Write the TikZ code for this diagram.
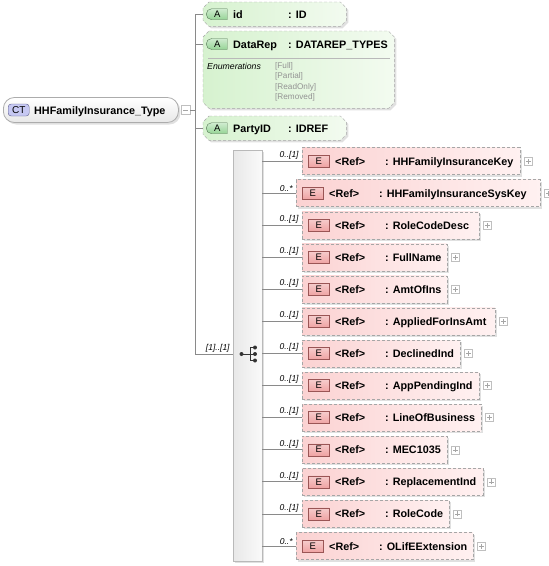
\documentclass[tikz,border=0pt]{standalone}
\usepackage{fontspec}
\setmainfont{Liberation Sans}
\usetikzlibrary{positioning,calc,shadows,shapes.misc}

\definecolor{connGray}{HTML}{8A8A8A}
\definecolor{boxGray}{HTML}{A6A6A6}
\definecolor{elemPink}{HTML}{FBD2D2}
\definecolor{elemLight}{HTML}{FFF1F1}
\definecolor{ePinkDark}{HTML}{EFA3A3}
\definecolor{eBorder}{HTML}{9A5555}
\definecolor{attrGreen}{HTML}{D6F2CF}
\definecolor{attrLight}{HTML}{F3FBF0}
\definecolor{aGreenDark}{HTML}{95D495}
\definecolor{aBorder}{HTML}{557755}
\definecolor{ctBlue}{HTML}{C6C8F2}
\definecolor{ctBorder}{HTML}{5C5C8C}

\newcommand{\diagfont}{\fontsize{10.8}{12}\selectfont\bfseries}

% one element row of the sequence: name, left x, row y, width, multiplicity, element
\newcommand{\elemrow}[6]{%
  \node[elembox, minimum width=#4pt, anchor=west] (#1) at (#2,#3) {};
  \node[ebadge, anchor=west] (#1E) at ($(#1.west)+(6,0)$) {E};
  \node[elemtext] (#1R) at ($(#1.west)+(33,4)$) {<Ref>};
  \node[elemtext] (#1N) at ($(#1.west)+(83,4)$) {: #6};
  \node[plusbox, right=4pt of #1.east] (#1P) {};
  \draw[conn] (seq.east |- #1.west) -- (#1.west) node[mult, pos=1] {#5};
}
% chamfered frame round an attribute node
\newcommand{\attrframe}[1]{%
  \path[attrline] ([xshift=6pt]#1.north west) -- ([xshift=-6pt]#1.north east) -- ([yshift=-6pt]#1.north east)
    -- ([yshift=6pt]#1.south east) -- ([xshift=-6pt]#1.south east) -- ([xshift=6pt]#1.south west)
    -- ([yshift=6pt]#1.south west) -- ([yshift=-6pt]#1.north west) -- cycle;
}

\tikzset{
  conn/.style={draw=connGray, line width=0.8pt},
  boxshadow/.style={drop shadow={shadow xshift=2pt, shadow yshift=-2pt, fill=black, opacity=0.12}},
  elembox/.style={draw=boxGray, dash pattern=on 3pt off 2pt, left color=elemPink, right color=elemLight,
    minimum height=27pt, inner sep=0pt, boxshadow},
  ebadge/.style={draw=eBorder, top color=ePinkDark!55, bottom color=ePinkDark, minimum width=21pt,
    minimum height=12pt, inner sep=0pt, font=\fontsize{9.5}{10}\selectfont},
  elemtext/.style={anchor=base west, inner sep=0pt, font=\diagfont},
  mult/.style={anchor=south east, inner xsep=3pt, inner ysep=1.5pt, font=\fontsize{8.5}{9}\selectfont\itshape},
  plusbox/.style={draw=gray!50, fill=white, minimum size=8pt, inner sep=0pt,
    path picture={\draw[gray!70] ([xshift=-2.5pt]path picture bounding box.center) -- ([xshift=2.5pt]path picture bounding box.center);
      \draw[gray!70] ([yshift=-2.5pt]path picture bounding box.center) -- ([yshift=2.5pt]path picture bounding box.center);}},
  minusbox/.style={draw=gray!50, fill=white, minimum size=9pt, inner sep=0pt,
    path picture={\draw[gray!70] ([xshift=-2.5pt]path picture bounding box.center) -- ([xshift=2.5pt]path picture bounding box.center);}},
  attrbox/.style={rectangle, inner sep=0pt},
  attrline/.style={draw=boxGray, dash pattern=on 3pt off 2pt, left color=attrGreen, right color=attrLight, boxshadow},
  abadge/.style={rounded rectangle, rounded rectangle right arc=none, draw=aBorder,
    top color=aGreenDark!45, bottom color=aGreenDark, minimum width=21pt, minimum height=11pt,
    inner sep=0pt, font=\fontsize{9.5}{10}\selectfont},
  ctbox/.style={draw=gray!65, rounded corners=11pt, top color=white, bottom color=gray!18, line width=0.8pt, boxshadow},
  ctbadge/.style={draw=ctBorder, fill=ctBlue, rounded corners=3pt, minimum width=21pt, minimum height=12pt,
    inner sep=0pt, font=\fontsize{10}{11}\selectfont},
  seqbox/.style={draw=gray!55, left color=gray!18, right color=gray!4, inner sep=0pt, boxshadow},
  enumtitle/.style={anchor=base west, inner sep=0pt, font=\fontsize{8.7}{9}\selectfont\itshape},
  enumval/.style={anchor=base west, inner sep=0pt, text=gray!85, font=\fontsize{8.2}{9}\selectfont},
}

\begin{document}
\begin{tikzpicture}[x=1pt,y=-1pt]
\useasboundingbox (0,0) rectangle (549,566);
% --- complex type ---
\node[ctbox, minimum width=175pt, minimum height=25pt, anchor=west] (ct) at (3,110) {};
\node[ctbadge, anchor=west] (ctB) at ($(ct.west)+(5,0)$) {CT};
\node[elemtext] (ctName) at ($(ct.west)+(31,4)$) {HHFamilyInsurance\_Type};
\node[minusbox, anchor=west] (ctM) at ($(ct.east)+(2,0)$) {};
\coordinate (trunk) at (195,110);
\draw[conn] (ctM.east) -- (trunk);

% --- attributes ---
\node[attrbox, minimum width=143pt, minimum height=24pt, anchor=north west] (aId) at (203,2) {};
\attrframe{aId}
\node[abadge, anchor=west] (aIdA) at ($(aId.west)+(3,0)$) {A};
\node[elemtext] (aIdN) at ($(aId.west)+(30,4)$) {id};
\node[elemtext] (aIdT) at ($(aId.west)+(85,4)$) {: ID};

\node[attrbox, minimum width=191pt, minimum height=77pt, anchor=north west] (aRep) at (203,31) {};
\attrframe{aRep}
\node[abadge, anchor=west] (aRepA) at ($(aRep.north west)+(3,13)$) {A};
\node[elemtext] (aRepN) at ($(aRep.north west)+(30,17)$) {DataRep};
\node[elemtext] (aRepT) at ($(aRep.north west)+(85,17)$) {: DATAREP\_TYPES};
\draw[gray!55] ($(aRep.north west)+(5,27)$) -- ($(aRep.north east)+(-4,27)$);
\node[enumtitle] (enumL) at (207,69) {Enumerations};
\node[enumval] (enum1) at (275,68) {[Full]};
\node[enumval] (enum2) at (275,78.5) {[Partial]};
\node[enumval] (enum3) at (275,89) {[ReadOnly]};
\node[enumval] (enum4) at (275,99.5) {[Removed]};

\node[attrbox, minimum width=143pt, minimum height=24pt, anchor=north west] (aParty) at (203,116) {};
\attrframe{aParty}
\node[abadge, anchor=west] (aPartyA) at ($(aParty.west)+(3,0)$) {A};
\node[elemtext] (aPartyN) at ($(aParty.west)+(30,4)$) {PartyID};
\node[elemtext] (aPartyT) at ($(aParty.west)+(85,4)$) {: IDREF};

% --- sequence ---
\node[seqbox, minimum width=29pt, minimum height=411pt, anchor=north west] (seq) at (233,150) {};
\coordinate (seqIcon) at (248,354);
\draw[conn] (trunk |- aId.west) -- (trunk |- seqIcon);
\draw[conn] (trunk |- aId.west) -- (aId.west);
\draw[conn] (trunk |- aRepA) -- (aRepA -| aRep.west);
\draw[conn] (trunk |- aParty.west) -- (aParty.west);
\draw[conn] (trunk |- seqIcon) -- (seq.west |- seqIcon) node[mult, pos=1] {[1]..[1]};
% sequence icon
\fill[black!80] ($(seqIcon)+(-6.5,0)$) circle (2);
\draw[black!80, line width=0.9pt] ($(seqIcon)+(-6.5,0)$) -- ($(seqIcon)+(2,0)$)
  ($(seqIcon)+(2,-6.5)$) -- ($(seqIcon)+(2,6.5)$)
  ($(seqIcon)+(2,-6.5)$) -- ($(seqIcon)+(7,-6.5)$)
  ($(seqIcon)+(2,6.5)$) -- ($(seqIcon)+(7,6.5)$)
  ($(seqIcon)+(2,0)$) -- ($(seqIcon)+(7,0)$);
\fill[black!80] ($(seqIcon)+(7,-6.5)$) circle (2) ($(seqIcon)+(7,0)$) circle (2) ($(seqIcon)+(7,6.5)$) circle (2);

% --- elements ---
\elemrow{eKey}{302}{161}{218}{0..[1]}{HHFamilyInsuranceKey}
\elemrow{eSysKey}{296}{193.1}{244}{0..*}{HHFamilyInsuranceSysKey}
\elemrow{eRoleDesc}{302}{225.2}{177}{0..[1]}{RoleCodeDesc}
\elemrow{eName}{302}{257.2}{145}{0..[1]}{FullName}
\elemrow{eAmt}{302}{289.3}{145}{0..[1]}{AmtOfIns}
\elemrow{eApplied}{302}{321.4}{193}{0..[1]}{AppliedForInsAmt}
\elemrow{eDeclined}{302}{353.5}{158}{0..[1]}{DeclinedInd}
\elemrow{ePending}{302}{385.6}{177}{0..[1]}{AppPendingInd}
\elemrow{eLob}{302}{417.6}{179}{0..[1]}{LineOfBusiness}
\elemrow{eMec}{302}{449.7}{145}{0..[1]}{MEC1035}
\elemrow{eRepl}{302}{481.8}{181}{0..[1]}{ReplacementInd}
\elemrow{eRole}{302}{513.9}{147}{0..[1]}{RoleCode}
\elemrow{eExt}{296}{546}{177}{0..*}{OLifEExtension}
\end{tikzpicture}
\end{document}
